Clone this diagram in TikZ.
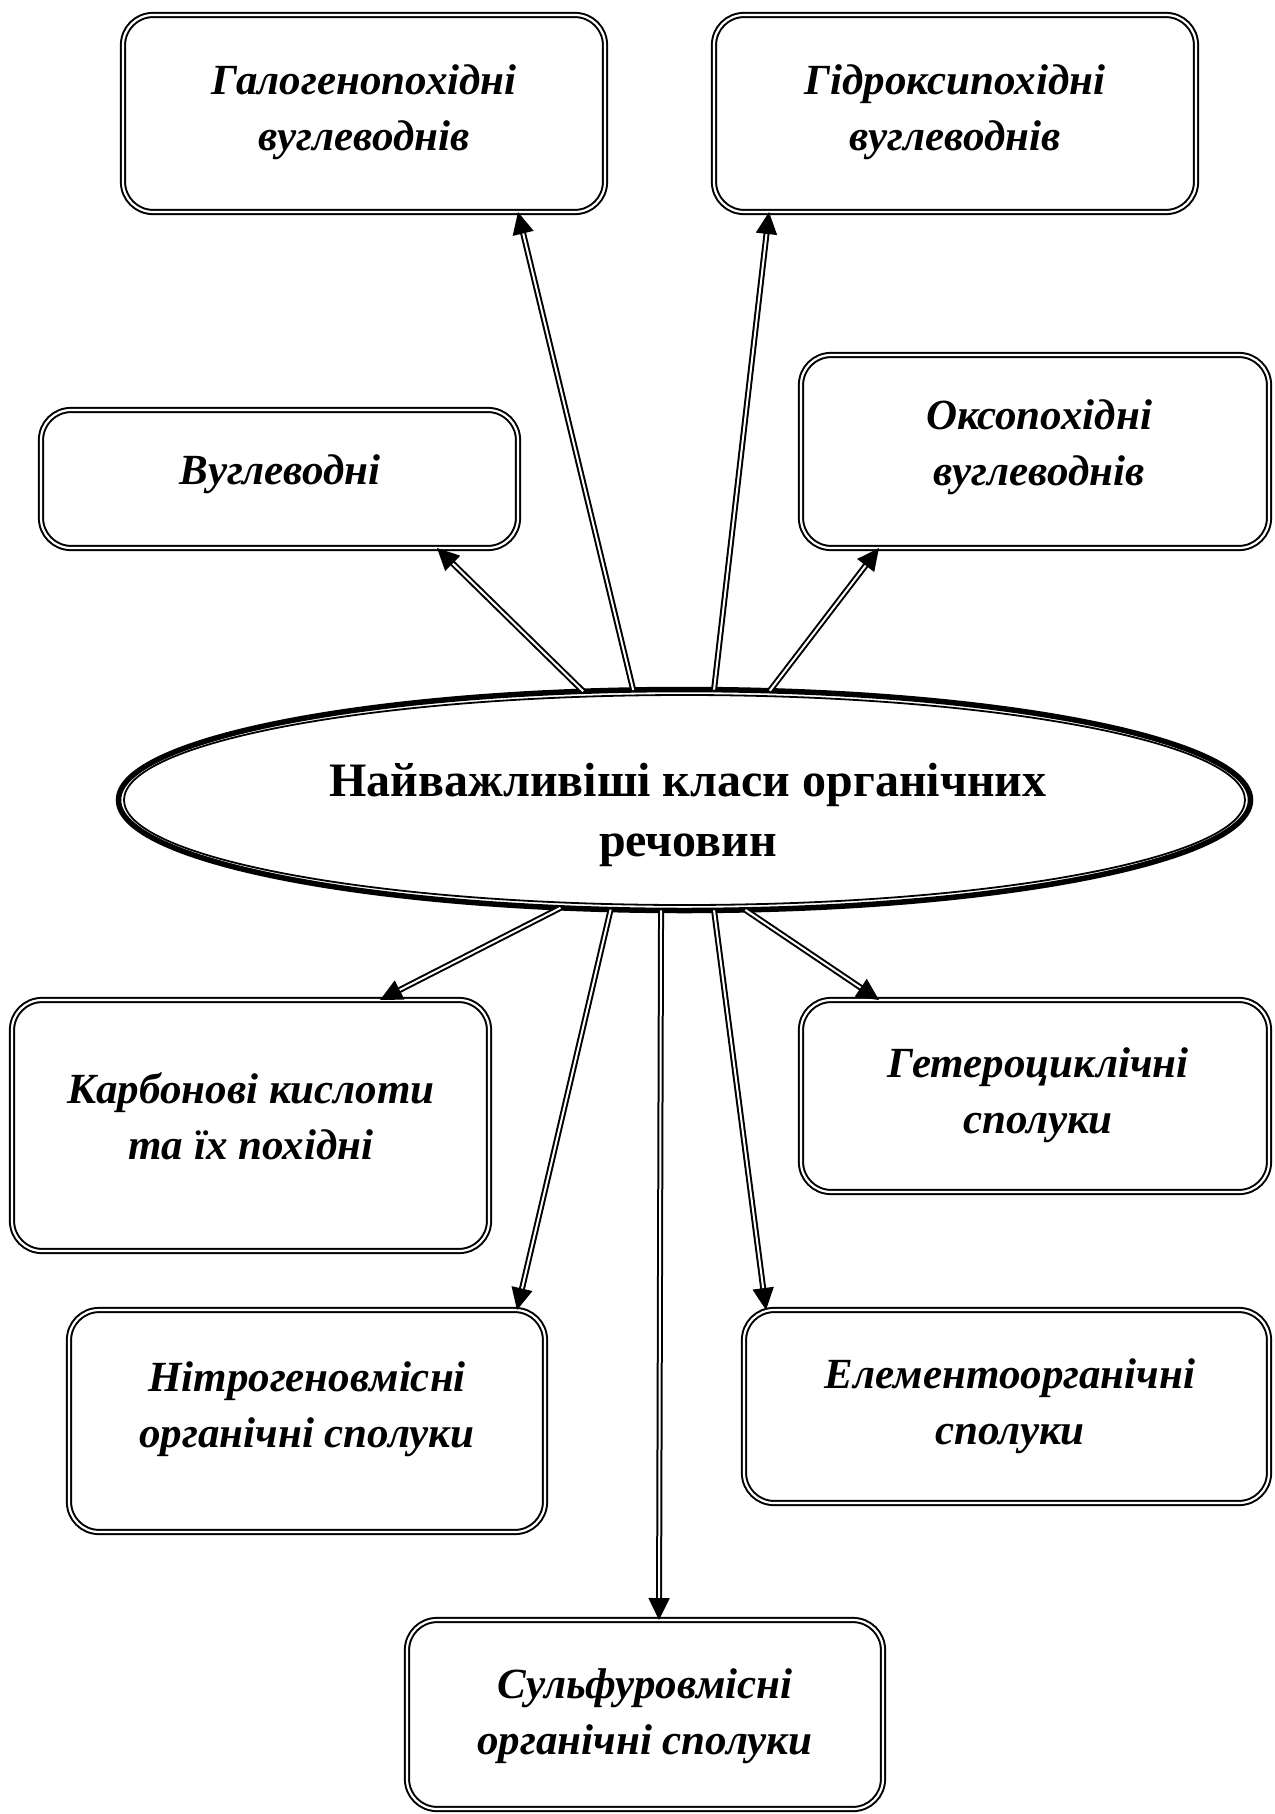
\documentclass[tikz,border=0pt]{standalone}
\usepackage{fontspec}
\setmainfont{Liberation Serif}
\usetikzlibrary{shapes.geometric,arrows.meta}
\begin{document}
\begin{tikzpicture}[x=1pt,y=-1pt,
  classbox/.style 2 args={draw, line width=2pt, double, double distance=2.2pt,
    rounded corners=30pt, minimum width=#1, minimum height=#2,
    inner sep=0pt, outer sep=0pt},
  boxtext/.style={font=\fontsize{43}{56}\selectfont\bfseries\itshape,
    align=center, inner sep=0pt},
  hubtext/.style={font=\fontsize{48}{60}\selectfont\bfseries,
    align=center, inner sep=0pt},
  link/.style={draw, line width=2pt, double, double distance=2pt,
    -{Triangle[length=22pt,width=21pt]}},
]
\useasboundingbox (0,0) rectangle (1274,1814);

% central ellipse: thick outer ring, thin inner ring
\node[ellipse, draw, line width=5.5pt, minimum width=1132pt, minimum height=221pt,
      inner sep=0pt, outer sep=0pt] (E) at (684.5,800) {};
\draw[line width=1.8pt] (E.center) ellipse [x radius=560.5, y radius=105];
\node[hubtext] (Et) at (688,815) {Найважливіші класи органічних\\речовин};

% class boxes
\node[classbox={482pt}{197pt}] (B1) at (364,113.5) {};
\node[boxtext] (T1) at (364,112) {Галогенопохідні\\вуглеводнів};

\node[classbox={482pt}{197pt}] (B2) at (955,113.5) {};
\node[boxtext] (T2) at (955,112) {Гідроксипохідні\\вуглеводнів};

\node[classbox={477pt}{138pt}] (B3) at (279.5,479) {};
\node[boxtext] (T3) at (280,474) {Вуглеводні};

\node[classbox={468pt}{193pt}] (B4) at (1035,451.5) {};
\node[boxtext] (T4) at (1039,447) {Оксопохідні\\вуглеводнів};

\node[classbox={477pt}{251pt}] (B5) at (250.5,1125.5) {};
\node[boxtext] (T5) at (251,1116) {Карбонові кислоти\\та їх похідні};

\node[classbox={468pt}{192pt}] (B6) at (1035,1096) {};
\node[boxtext] (T6) at (1038,1095) {Гетероциклічні\\сполуки};

\node[classbox={476pt}{222pt}] (B7) at (307,1421) {};
\node[boxtext] (T7) at (307,1409) {Нітрогеновмісні\\органічні сполуки};

\node[classbox={525pt}{193pt}] (B8) at (1006.5,1406.5) {};
\node[boxtext] (T8) at (1010,1406) {Елементоорганічні\\сполуки};

\node[classbox={476pt}{189pt}] (B9) at (645,1714.5) {};
\node[boxtext] (T9) at (645,1716) {Сульфуровмісні\\органічні сполуки};

% connectors from the ellipse to the classes
\draw[link] (E.115)    -- ([xshift=154pt]B1.south);
\draw[link] (E.75)     -- ([xshift=-186pt]B2.south);
\draw[link] (E.133.6)  -- ([xshift=157.5pt]B3.south);
\draw[link] (E.52.4)   -- ([xshift=-156pt]B4.south);
\draw[link] (E.-139.6) -- ([xshift=129.5pt]B5.north);
\draw[link] (E.-61.7)  -- ([xshift=-156pt]B6.north);
\draw[link] (E.-124.5) -- ([xshift=210pt]B7.north);
\draw[link] (E.-75.4)  -- ([xshift=-240.5pt]B8.north);
\draw[link] (E.-102.3) -- ([xshift=14pt]B9.north);
\end{tikzpicture}
\end{document}
